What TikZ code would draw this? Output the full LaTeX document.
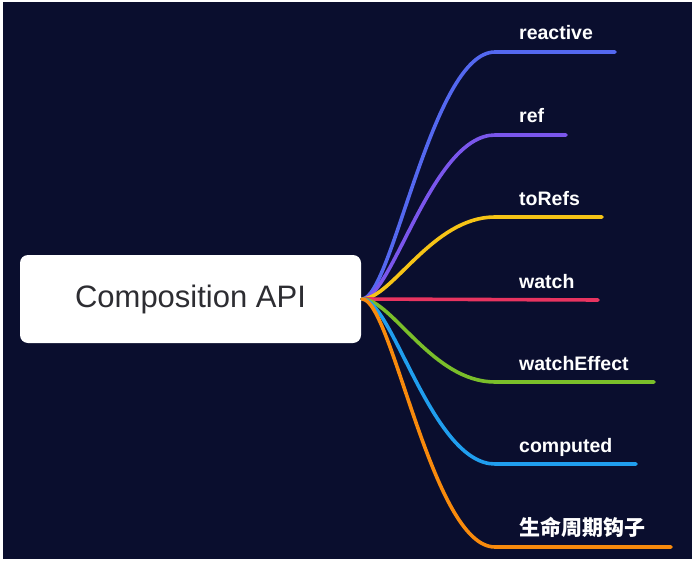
\documentclass[tikz,border=0pt]{standalone}
\usepackage{fontspec}
\setmainfont{Liberation Sans}
\newfontfamily\cjkfont{Noto Sans CJK SC}
\definecolor{bgnavy}{RGB}{10,14,46}
\definecolor{rootfg}{RGB}{45,45,50}
\definecolor{cA}{RGB}{84,104,240}
\definecolor{cB}{RGB}{122,86,236}
\definecolor{cC}{RGB}{246,196,22}
\definecolor{cD}{RGB}{232,52,96}
\definecolor{cE}{RGB}{122,190,42}
\definecolor{cF}{RGB}{32,158,238}
\definecolor{cG}{RGB}{248,138,12}
\begin{document}
\begin{tikzpicture}[x=1pt,y=-1pt,
  branch/.style={line width=3.6pt,line cap=round},
  leaflabel/.style={anchor=base west,inner sep=0pt,text=white,font=\bfseries\fontsize{19.5}{22}\selectfont},
  rootbox/.style={fill=white,rounded corners=8pt,minimum width=341pt,minimum height=88pt,inner sep=0pt,text=rootfg,font=\fontsize{31}{37}\selectfont}]
\useasboundingbox (0,0) rectangle (692,561);
\fill[white] (0,0) rectangle (692,561);
\fill[bgnavy] (3,2) rectangle (692,559);
\node[rootbox] (root) at (190.5,299) {Composition API};
\coordinate (s) at (362,299);
% branch ends
\coordinate (e1) at (615,52);
\coordinate (e2) at (566,135);
\coordinate (e3) at (602,217);
\coordinate (e4) at (598,300);
\coordinate (e5) at (654,382);
\coordinate (e6) at (636,464);
\coordinate (e7) at (671,547);
% labels
\node[leaflabel] (l1) at (519,40) {reactive};
\node[leaflabel] (l2) at (519,123) {ref};
\node[leaflabel] (l3) at (519,205) {toRefs};
\node[leaflabel] (l4) at (519,288) {watch};
\node[leaflabel] (l5) at (519,370) {watchEffect};
\node[leaflabel] (l6) at (519,452) {computed};
\node[leaflabel,font=\cjkfont\bfseries\fontsize{21}{24}\selectfont] (l7) at (519,535) {生命周期钩子};
% branches
\draw[branch,cA] (s) .. controls (392,299) and (432,52) .. (495,52) -- (e1);
\draw[branch,cB] (s) .. controls (392,299) and (432,135) .. (495,135) -- (e2);
\draw[branch,cC] (s) .. controls (392,299) and (432,217) .. (495,217) -- (e3);
\draw[branch,cD] (s) -- (e4);
\draw[branch,cE] (s) .. controls (392,299) and (432,382) .. (495,382) -- (e5);
\draw[branch,cF] (s) .. controls (392,299) and (432,464) .. (495,464) -- (e6);
\draw[branch,cG] (s) .. controls (392,299) and (432,547) .. (495,547) -- (e7);
\end{tikzpicture}
\end{document}
